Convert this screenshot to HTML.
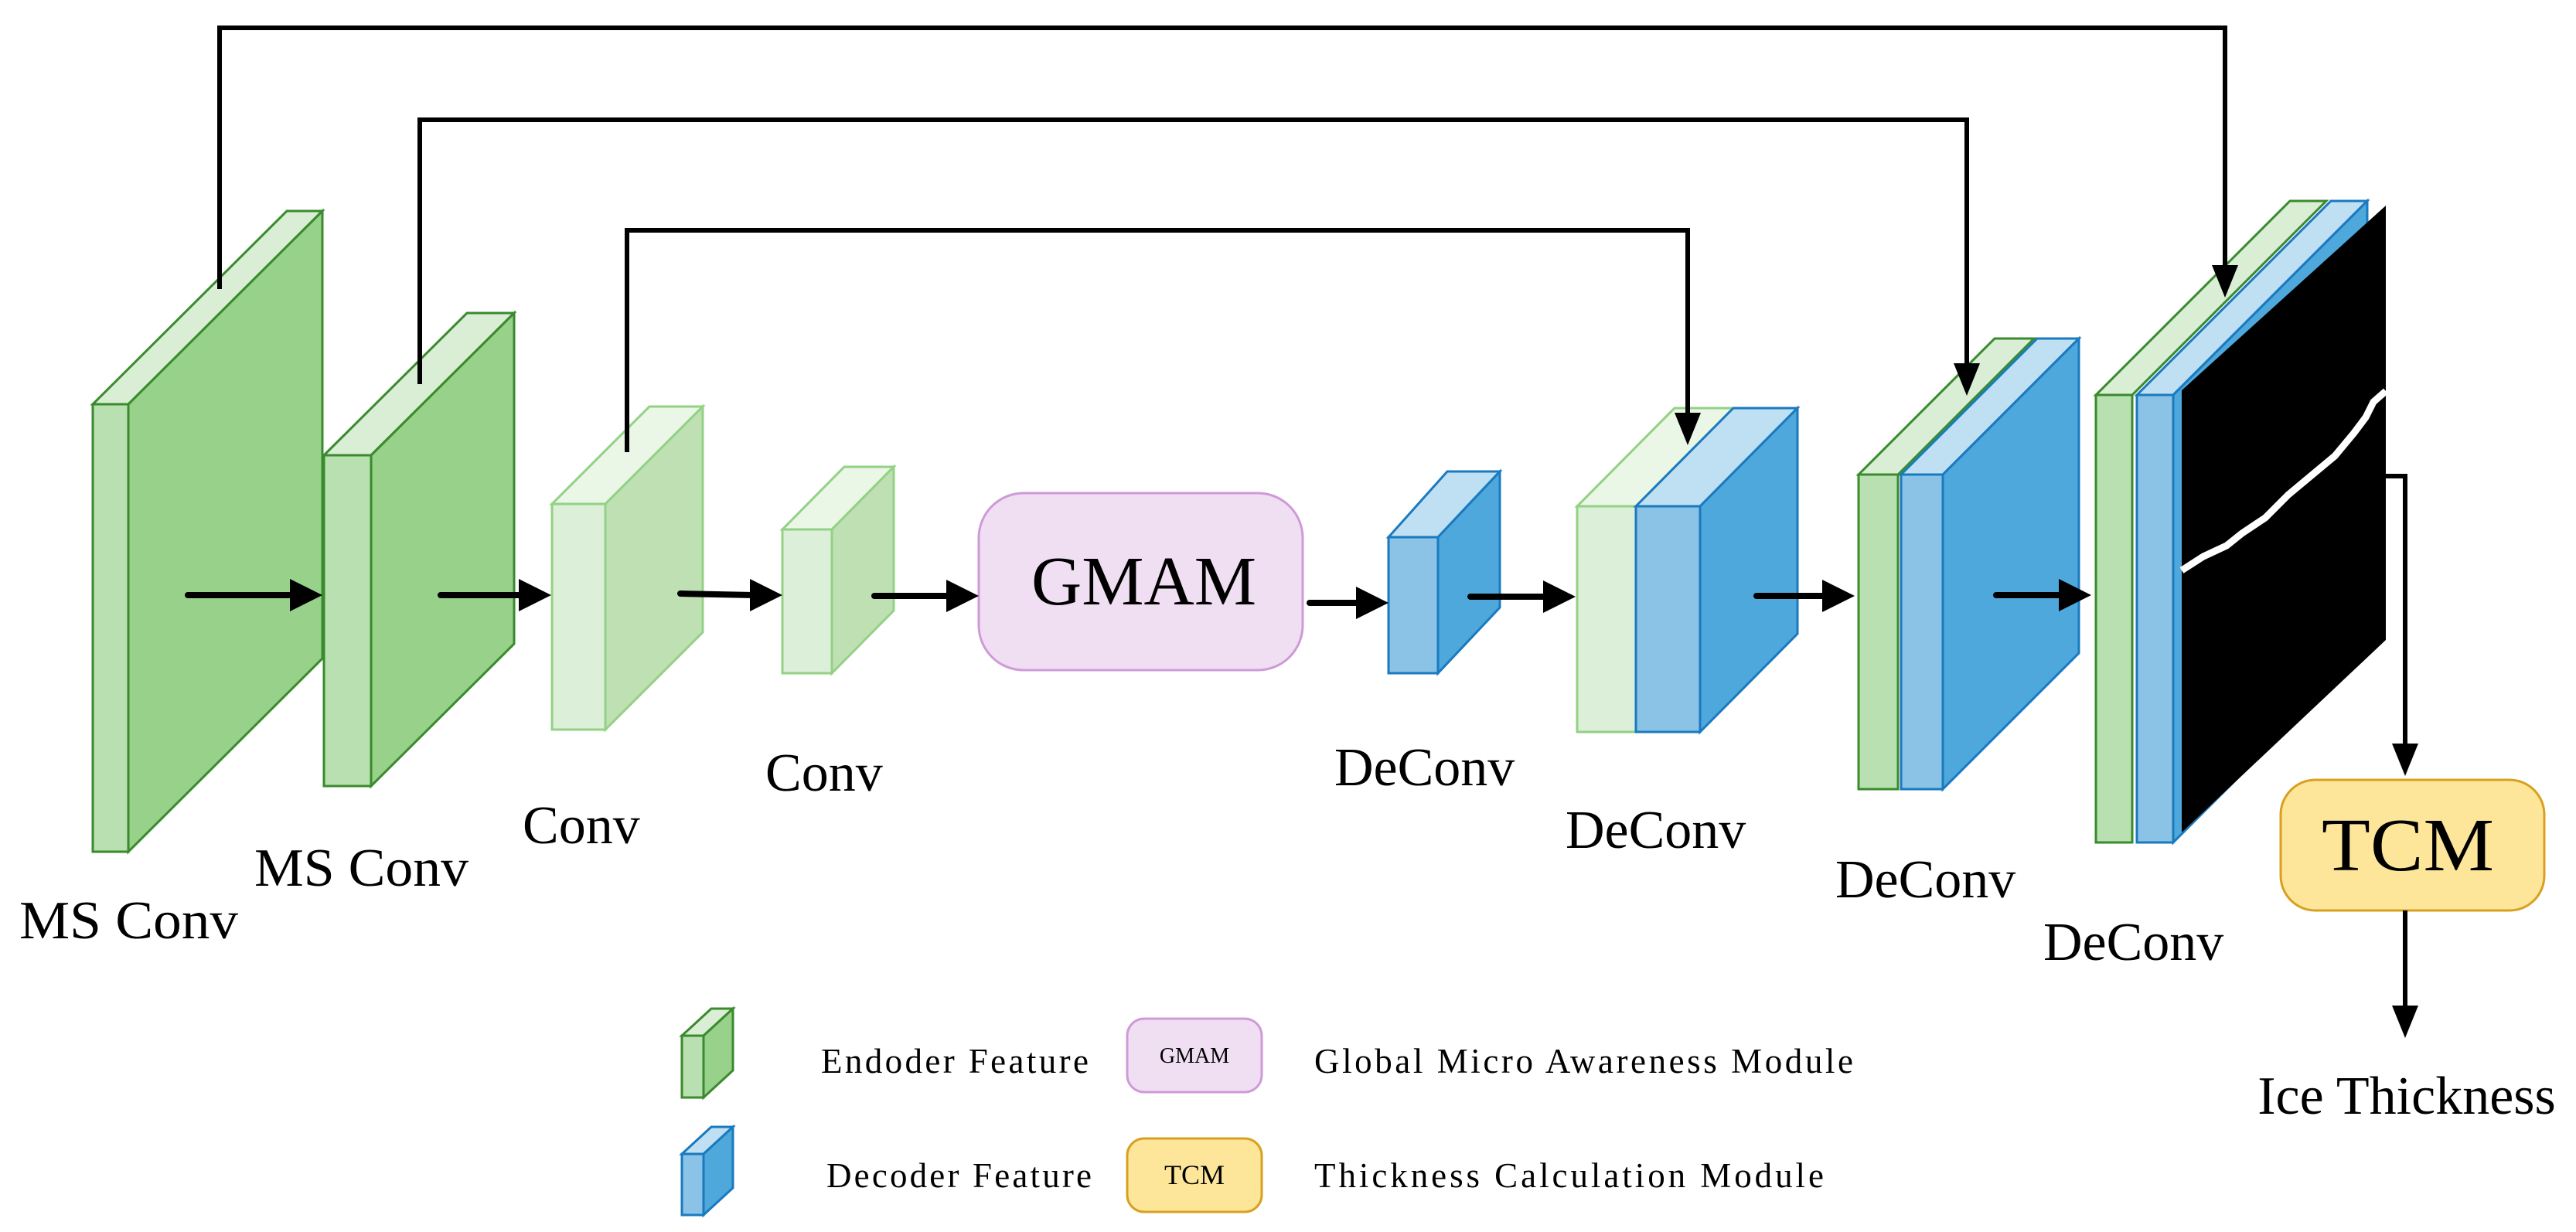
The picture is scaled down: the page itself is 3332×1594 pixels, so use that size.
<!DOCTYPE html>
<html><head><meta charset="utf-8"><style>
html,body{margin:0;padding:0;background:#fff}
svg{display:block}
text{font-family:"Liberation Serif",serif;fill:#000}
</style></head><body>
<svg width="3332" height="1594" viewBox="0 0 3332 1594" xmlns="http://www.w3.org/2000/svg">
<g stroke-width="3" stroke-linejoin="miter">
<g stroke="#3a8a2e">
<polygon points="120,523 371,273 417,273 166,523" fill="#d9eed4"/>
<polygon points="166,523 417,273 417,852 166,1102" fill="#97d18a"/>
<rect x="120" y="523" width="46" height="579" fill="#b9e0b0"/>
</g>
<g stroke="#3a8a2e">
<polygon points="419,589 604,405 665,405 480,589" fill="#d9eed4"/>
<polygon points="480,589 665,405 665,833 480,1017" fill="#97d18a"/>
<rect x="419" y="589" width="61" height="428" fill="#b9e0b0"/>
</g>
<g stroke="#93d184">
<polygon points="714,652 840,526 909,526 783,652" fill="#eaf6e6"/>
<polygon points="783,652 909,526 909,818 783,944" fill="#bfe0b3"/>
<rect x="714" y="652" width="69" height="292" fill="#dcefd8"/>
</g>
<g stroke="#93d184">
<polygon points="1012,685 1092,604 1156,604 1076,685" fill="#eaf6e6"/>
<polygon points="1076,685 1156,604 1156,790 1076,871" fill="#bfe0b3"/>
<rect x="1012" y="685" width="64" height="186" fill="#dcefd8"/>
</g>
<rect x="1266" y="638" width="419" height="229" rx="58" fill="#f0dff2" stroke="#cf9ad8"/>
<g stroke="#1a7abf">
<polygon points="1796,695 1872,610 1940,610 1860,695" fill="#bfdff2"/>
<polygon points="1860,695 1940,610 1940,786 1860,871" fill="#4fa8dc"/>
<rect x="1796" y="695" width="64" height="176" fill="#8bc3e6"/>
</g>
<g stroke="#93d184">
<polygon points="2040,655 2166,528 2242,528 2116,655" fill="#eaf6e6"/>
<rect x="2040" y="655" width="76" height="292" fill="#dcefd8"/>
</g>
<g stroke="#1a7abf">
<polygon points="2116,655 2242,528 2325,528 2199,655" fill="#bfdff2"/>
<polygon points="2199,655 2325,528 2325,820 2199,947" fill="#4fa8dc"/>
<rect x="2116" y="655" width="83" height="292" fill="#8bc3e6"/>
</g>
<g stroke="#3a8a2e">
<polygon points="2404,614 2580,438 2631,438 2455,614" fill="#d9eed4"/>
<rect x="2404" y="614" width="51" height="407" fill="#b9e0b0"/>
</g>
<g stroke="#1a7abf">
<polygon points="2459,614 2635,438 2689,438 2513,614" fill="#bfdff2"/>
<polygon points="2513,614 2689,438 2689,845 2513,1021" fill="#4fa8dc"/>
<rect x="2459" y="614" width="54" height="407" fill="#8bc3e6"/>
</g>
<g stroke="#3a8a2e">
<polygon points="2711,511 2962,260 3009,260 2758,511" fill="#d9eed4"/>
<rect x="2711" y="511" width="47" height="579" fill="#b9e0b0"/>
</g>
<g stroke="#1a7abf">
<polygon points="2764,511 3015,260 3062,260 2811,511" fill="#bfdff2"/>
<polygon points="2811,511 3062,260 3062,839 2811,1090" fill="#4fa8dc"/>
<rect x="2764" y="511" width="47" height="579" fill="#8bc3e6"/>
</g>
</g>
<polygon points="2822,505 3086,266 3086,828 2822,1077" fill="#000"/>
<polyline points="2822,738 2850,720 2880,706 2900,690 2930,670 2960,640 2990,615 3020,590 3045,560 3060,540 3070,520 3086,506" fill="none" stroke="#fff" stroke-width="9"/>
<rect x="2950" y="1009" width="341" height="169" rx="45" fill="#fde699" stroke="#d8a020" stroke-width="3"/>
<g stroke="#000" stroke-width="6" fill="none">
<polyline points="284,374 284,36 2878,36 2878,350"/>
<polyline points="543,497 543,155 2544,155 2544,478"/>
<polyline points="811,585 811,298 2183,298 2183,542"/>
<polyline points="3086,616 3111,616 3111,970"/>
<line x1="3111" y1="1178" x2="3111" y2="1310"/>
</g>
<g stroke="#000" stroke-width="8" stroke-linecap="round">
<line x1="243" y1="770" x2="380" y2="770"/>
<line x1="570" y1="770" x2="676" y2="770"/>
<line x1="880" y1="768" x2="975" y2="770"/>
<line x1="1131" y1="771" x2="1229" y2="771"/>
<line x1="1694" y1="780" x2="1759" y2="780"/>
<line x1="1902" y1="772" x2="2000" y2="772"/>
<line x1="2272" y1="771" x2="2362" y2="771"/>
<line x1="2582" y1="770" x2="2668" y2="770"/>
</g>
<g fill="#000">
<polygon points="417,770 375,749 375,791"/>
<polygon points="713,770 671,749 671,791"/>
<polygon points="1012,770 970,749 970,791"/>
<polygon points="1266,771 1224,750 1224,792"/>
<polygon points="1796,780 1754,759 1754,801"/>
<polygon points="2038,772 1996,751 1996,793"/>
<polygon points="2399,771 2357,750 2357,792"/>
<polygon points="2705,770 2663,749 2663,791"/>
<polygon points="2878,385 2861,343 2895,343"/>
<polygon points="2544,512 2527,470 2561,470"/>
<polygon points="2183,576 2166,534 2200,534"/>
<polygon points="3111,1004 3094,962 3128,962"/>
<polygon points="3111,1343 3094,1301 3128,1301"/>
</g>
<g font-size="70">
<text x="25" y="1214" textLength="283" lengthAdjust="spacingAndGlyphs">MS Conv</text>
<text x="329" y="1146" textLength="277" lengthAdjust="spacingAndGlyphs">MS Conv</text>
<text x="676" y="1091">Conv</text>
<text x="990" y="1023">Conv</text>
<text x="1726" y="1016">DeConv</text>
<text x="2025" y="1097">DeConv</text>
<text x="2374" y="1161">DeConv</text>
<text x="2643" y="1242">DeConv</text>
<text x="3113" y="1441" text-anchor="middle">Ice Thickness</text>
</g>
<text x="1334" y="782" font-size="90" textLength="291" lengthAdjust="spacingAndGlyphs">GMAM</text>
<text x="3003" y="1126" font-size="98" textLength="223" lengthAdjust="spacingAndGlyphs">TCM</text>
<g stroke-width="3">
<g stroke="#3a8a2e">
<polygon points="882,1340 920,1305 948,1305 910,1340" fill="#d9eed4"/>
<polygon points="910,1340 948,1305 948,1385 910,1420" fill="#97d18a"/>
<rect x="882" y="1340" width="28" height="80" fill="#b9e0b0"/>
</g>
<g stroke="#1a7abf">
<polygon points="882,1493 920,1458 948,1458 910,1493" fill="#bfdff2"/>
<polygon points="910,1493 948,1458 948,1537 910,1572" fill="#4fa8dc"/>
<rect x="882" y="1493" width="28" height="79" fill="#8bc3e6"/>
</g>
<rect x="1458" y="1318" width="174" height="95" rx="22" fill="#f0dff2" stroke="#cf9ad8"/>
<rect x="1458" y="1473" width="174" height="95" rx="22" fill="#fde699" stroke="#d8a020"/>
</g>
<text x="1545" y="1375" font-size="28" text-anchor="middle">GMAM</text>
<text x="1545" y="1532" font-size="36" text-anchor="middle">TCM</text>
<g font-size="45">
<text x="1062" y="1388" textLength="346" lengthAdjust="spacing">Endoder Feature</text>
<text x="1069" y="1536" textLength="343" lengthAdjust="spacing">Decoder Feature</text>
<text x="1700" y="1388" textLength="697" lengthAdjust="spacing">Global Micro Awareness Module</text>
<text x="1700" y="1536" textLength="659" lengthAdjust="spacing">Thickness Calculation Module</text>
</g>
</svg>
</body></html>
